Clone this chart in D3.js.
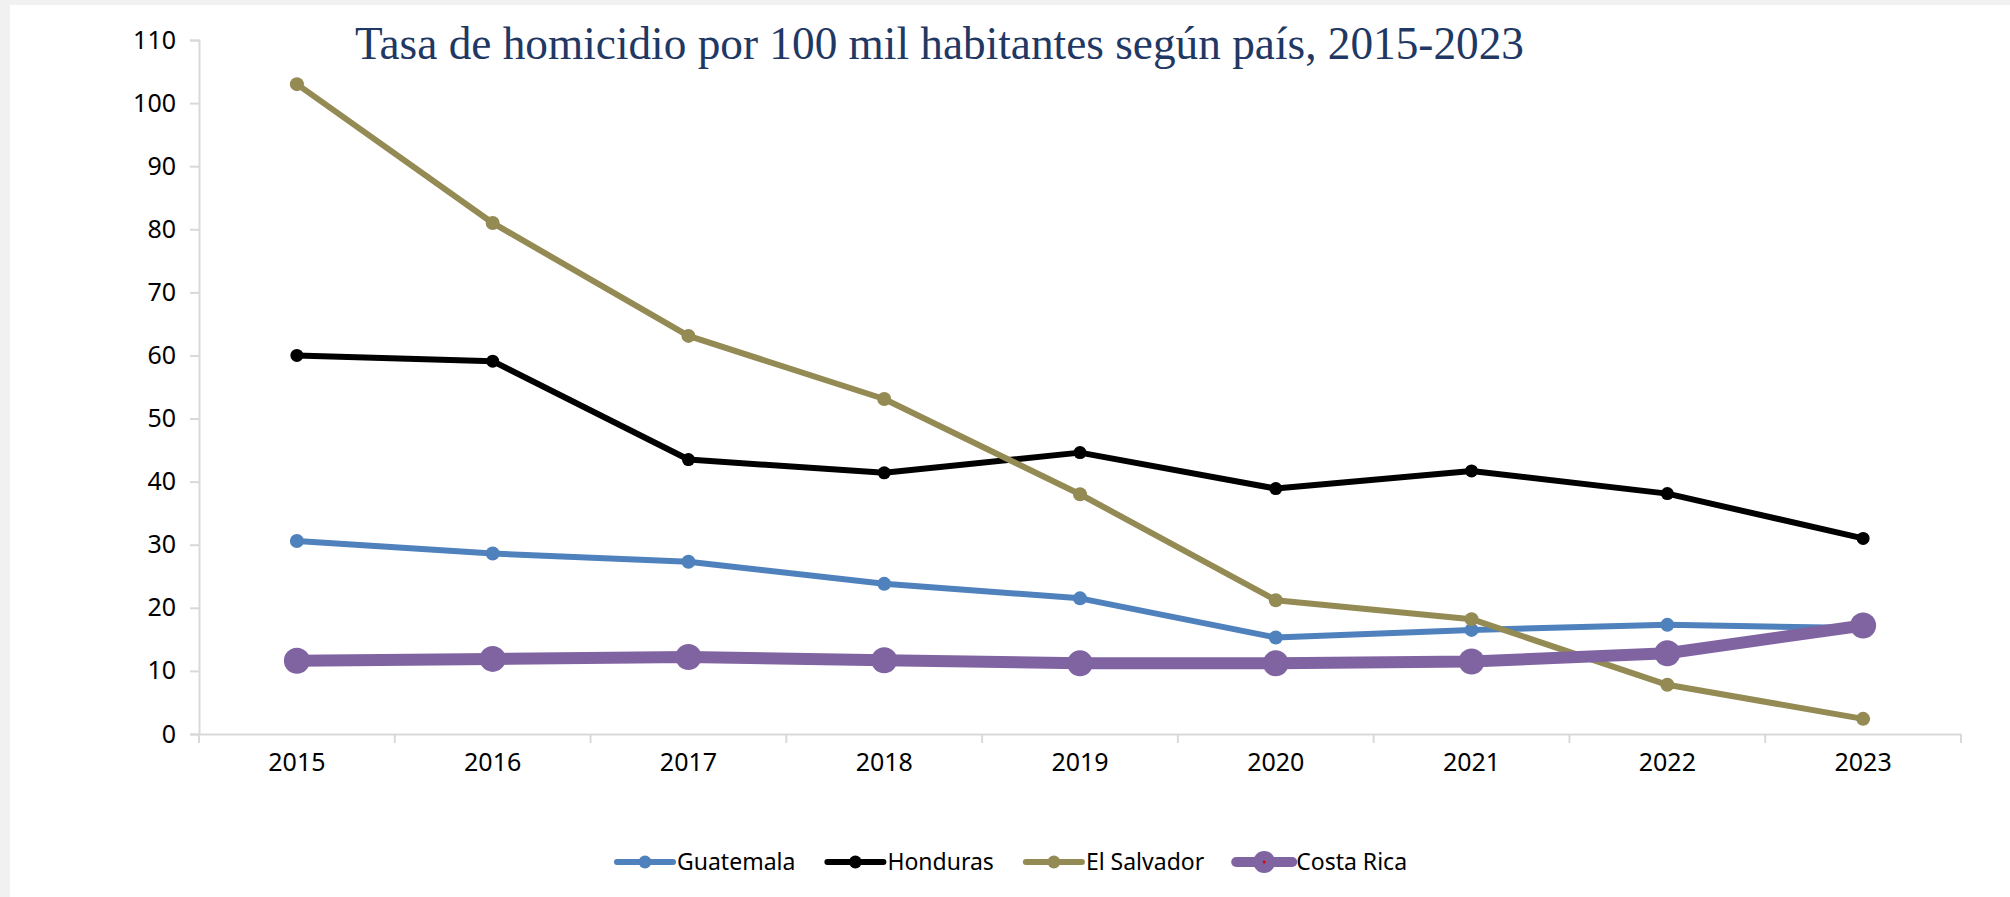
<!DOCTYPE html>
<html>
<head>
<meta charset="utf-8">
<script src="https://cdn.jsdelivr.net/npm/d3@7"></script>
<style>
body { margin: 0; background: #fff; }
</style>
</head>
<body>
<script>
var width = 2010,
    height = 897;

var years = ["2015", "2016", "2017", "2018", "2019", "2020", "2021", "2022", "2023"];
var guatemala = [30.6, 28.6, 27.3, 23.8, 21.5, 15.3, 16.5, 17.3, 16.8];
var honduras = [60.0, 59.1, 43.5, 41.4, 44.6, 38.9, 41.7, 38.1, 31.0];
var elSalvador = [103.0, 81.0, 63.1, 53.1, 38.0, 21.2, 18.2, 7.8, 2.4];
var costaRica = [11.6, 11.9, 12.2, 11.7, 11.2, 11.2, 11.5, 12.8, 17.2];
var yTicks = [0, 10, 20, 30, 40, 50, 60, 70, 80, 90, 100, 110];
var title = "Tasa de homicidio por 100 mil habitantes según país, 2015-2023";

var series = [
  {name: "Guatemala", values: guatemala, color: "#4f81bd", lw: 6, r: 7},
  {name: "Honduras", values: honduras, color: "#000000", lw: 6, r: 6.5},
  {name: "El Salvador", values: elSalvador, color: "#948a54", lw: 6, r: 7},
  {name: "Costa Rica", values: costaRica, color: "#8064a2", lw: 12, r: 13}
];

var svg = d3.select("body").append("svg")
    .attr("width", width)
    .attr("height", height);

// faint grey frame at top / left like the source screenshot
svg.append("rect").attr("width", width).attr("height", height).attr("fill", "#f1f1f1");
svg.append("rect").attr("x", 10).attr("y", 5).attr("width", width - 10).attr("height", height - 5).attr("fill", "#fff");

var x = d3.scaleBand().domain(years).range([199, 1961]);
var y = d3.scaleLinear().domain([0, 110]).range([734, 40]);

var axisFont = "'Noto Sans', sans-serif";

// y axis
var yAxis = svg.append("g")
    .attr("transform", "translate(199,0)")
    .call(d3.axisLeft(y).tickValues(yTicks).tickSize(9).tickPadding(14));
yAxis.select(".domain").attr("stroke", "#d9d9d9").attr("stroke-width", 2);
yAxis.selectAll(".tick line").attr("stroke", "#d9d9d9").attr("stroke-width", 2);
yAxis.selectAll("text").attr("fill", "#000").style("font-family", axisFont).style("font-size", "25px");

// x axis, ticks between categories
var xAxis = svg.append("g")
    .attr("transform", "translate(0,734)")
    .call(d3.axisBottom(x).tickSize(0).tickPadding(19));
xAxis.select(".domain").attr("stroke", "#d9d9d9").attr("stroke-width", 2);
xAxis.selectAll("text").attr("fill", "#000").style("font-family", axisFont).style("font-size", "25px");
xAxis.selectAll(".sep")
    .data(d3.range(years.length + 1))
    .enter().append("line")
    .attr("class", "sep")
    .attr("x1", function(i) { return 199 + i * x.step(); })
    .attr("x2", function(i) { return 199 + i * x.step(); })
    .attr("y1", 0).attr("y2", 9)
    .attr("stroke", "#d9d9d9").attr("stroke-width", 2);

var cx = function(i) { return x(years[i]) + x.bandwidth() / 2; };
var line = d3.line()
    .x(function(d, i) { return cx(i); })
    .y(function(d) { return y(d); });

var g = svg.selectAll(".series").data(series).enter().append("g").attr("class", "series");
g.append("path")
    .attr("d", function(s) { return line(s.values); })
    .attr("fill", "none")
    .attr("stroke", function(s) { return s.color; })
    .attr("stroke-width", function(s) { return s.lw; })
    .attr("stroke-linejoin", "round")
    .attr("stroke-linecap", "round");
g.selectAll("circle")
    .data(function(s) { return s.values.map(function(v) { return {v: v, s: s}; }); })
    .enter().append("circle")
    .attr("cx", function(d, i) { return cx(i); })
    .attr("cy", function(d) { return y(d.v); })
    .attr("r", function(d) { return d.s.r; })
    .attr("fill", function(d) { return d.s.color; });

// title
svg.append("text")
    .attr("x", 355).attr("y", 59)
    .attr("textLength", 1169)
    .attr("lengthAdjust", "spacingAndGlyphs")
    .style("font-family", "'Liberation Serif', serif")
    .style("font-size", "46px")
    .attr("fill", "#1f3864")
    .text(title);

// legend
var legend = svg.append("g").attr("transform", "translate(0,862)");
var lx = 617;
series.forEach(function(s) {
  var item = legend.append("g").attr("transform", "translate(" + lx + ",0)");
  item.append("line")
      .attr("x1", 0).attr("x2", 56)
      .attr("stroke", s.color)
      .attr("stroke-width", s.name == "Costa Rica" ? 10 : 6)
      .attr("stroke-linecap", "round");
  item.append("circle").attr("cx", 28).attr("r", s.name == "Costa Rica" ? 11 : 6.5).attr("fill", s.color);
  if (s.name == "Costa Rica") item.append("circle").attr("cx", 28).attr("r", 1.5).attr("fill", "#e00000");
  var t = item.append("text")
      .attr("x", 60).attr("dy", "0.35em")
      .style("font-family", axisFont)
      .style("font-size", "23px")
      .attr("fill", "#000")
      .text(s.name);
  lx += 60 + t.node().getComputedTextLength() + 32;
});
</script>
</body>
</html>
